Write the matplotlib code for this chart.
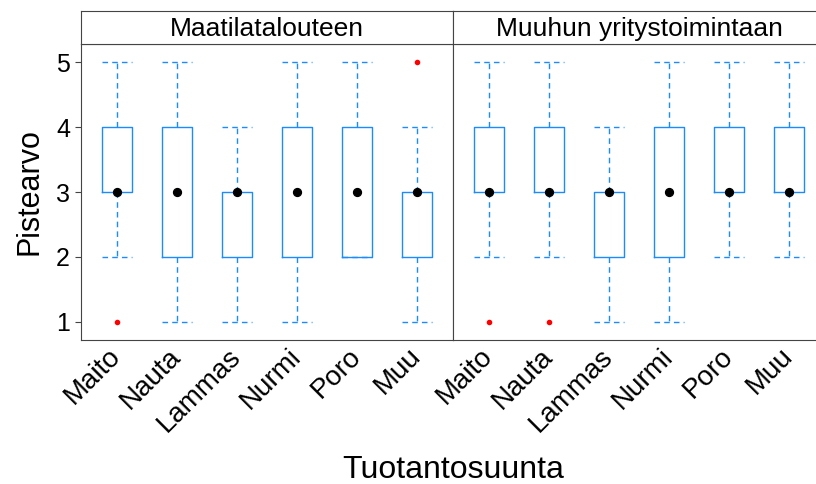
import numpy as np
import matplotlib.pyplot as plt

plt.rcParams['font.family'] = ['Liberation Sans', 'DejaVu Sans']

categories = ['Maito', 'Nauta', 'Lammas', 'Nurmi', 'Poro', 'Muu']
panels = ['Maatilatalouteen', 'Muuhun yritystoimintaan']

# five number summaries per panel: (whislo, q1, med, q3, whishi)
summaries = {
    'Maatilatalouteen': [
        (2, 3, 3, 4, 5),
        (1, 2, 3, 4, 5),
        (1, 2, 3, 3, 4),
        (1, 2, 3, 4, 5),
        (2, 2, 3, 4, 5),
        (1, 2, 3, 3, 4),
    ],
    'Muuhun yritystoimintaan': [
        (2, 3, 3, 4, 5),
        (2, 3, 3, 4, 5),
        (1, 2, 3, 3, 4),
        (1, 2, 3, 4, 5),
        (2, 3, 3, 4, 5),
        (2, 3, 3, 4, 5),
    ],
}
outliers = {
    'Maatilatalouteen': [[1], [], [], [], [], [5]],
    'Muuhun yritystoimintaan': [[1], [1], [], [], [], []],
}

blue = '#1a8cff'
frame = '#444444'

fig = plt.figure(figsize=(8.16, 4.84), dpi=100)
W, H = 816, 484
x0s = [81, 453]
pw = 372
top, sbot, pbot = 11, 44, 340

for i, name in enumerate(panels):
    ax = fig.add_axes([x0s[i] / W, 1 - pbot / H, pw / W, (pbot - sbot) / H])
    st = fig.add_axes([x0s[i] / W, 1 - sbot / H, pw / W, (sbot - top) / H])

    stats = []
    for (lo, q1, med, q3, hi), fl in zip(summaries[name], outliers[name]):
        stats.append(dict(whislo=lo, q1=q1, med=med, q3=q3, whishi=hi, fliers=fl))
    pos = np.arange(1, len(categories) + 1)
    ax.bxp(stats, positions=pos, widths=0.5, capwidths=0.5,
           boxprops=dict(color=blue, linewidth=1.0),
           whiskerprops=dict(color=blue, linewidth=1.0, linestyle=(0, (4, 3))),
           capprops=dict(color=blue, linewidth=1.0, linestyle=(0, (4, 3))),
           medianprops=dict(linewidth=0),
           flierprops=dict(marker='o', markersize=4, markerfacecolor='red',
                           markeredgecolor='none'))
    meds = [s[2] for s in summaries[name]]
    ax.scatter(pos, meds, s=32, color='black', zorder=5)

    ax.set_xlim(0.4, 6.6)
    ax.set_ylim(0.72, 5.28)
    ax.set_xticks(pos)
    ax.set_xticklabels(categories, rotation=45, ha='right', va='center',
                       rotation_mode='anchor', fontsize=20)
    ax.tick_params(axis='x', length=0, pad=9)
    ax.set_yticks([1, 2, 3, 4, 5])
    if i == 0:
        ax.tick_params(axis='y', length=4, color=frame, labelsize=18, pad=4)
        ax.set_ylabel('Pistearvo', fontsize=22, labelpad=8)
    else:
        ax.tick_params(axis='y', length=0, labelleft=False)
    for sp in ax.spines.values():
        sp.set_color(frame)

    st.set_xticks([])
    st.set_yticks([])
    for sp in st.spines.values():
        sp.set_color(frame)
    st.text(0.5, 0.45, name, ha='center', va='center', fontsize=19,
            transform=st.transAxes)

fig.text(453 / W, 1 - 470 / H, 'Tuotantosuunta', ha='center', va='center',
         fontsize=23)

fig.savefig('out.png', dpi=100)
